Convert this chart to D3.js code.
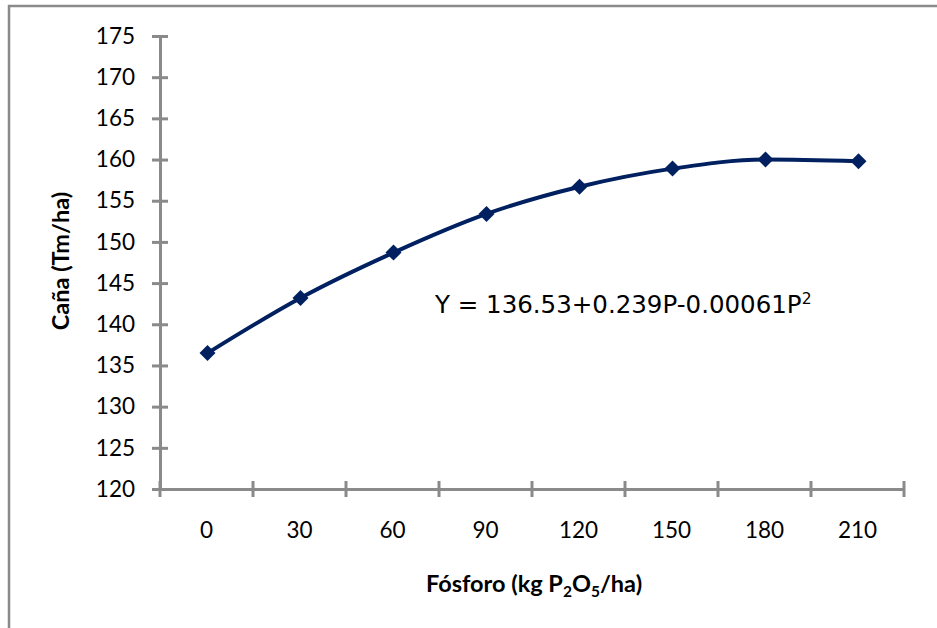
<!doctype html>
<html lang="es">
<head>
<meta charset="utf-8" />
<title>Caña vs Fósforo</title>
<script src="https://d3js.org/d3.v7.min.js"></script>
<style>
  body { margin: 0; background: #fff; }
  svg { display: block; }
  .tick text { font-family: Lato, "Noto Sans", sans-serif; font-size: 22.5px; fill: #000; }
</style>
</head>
<body>
<div id="chart"></div>
<script>
// data
const doses = ["0", "30", "60", "90", "120", "150", "180", "210"];
const yieldVals = [136.5, 143.2, 148.7, 153.4, 156.7, 158.9, 160.0, 159.8];
const yTicks = [120, 125, 130, 135, 140, 145, 150, 155, 160, 165, 170, 175];

const W = 937, H = 628;
const svg = d3.select("#chart").append("svg")
  .attr("width", W).attr("height", H);

// outer frame (runs off the right and bottom of the picture)
svg.append("rect")
  .attr("x", 9).attr("y", 6)
  .attr("width", 1000).attr("height", 1000)
  .attr("fill", "none").attr("stroke", "#8a8a8a").attr("stroke-width", 2.5);

const x = d3.scaleBand().domain(doses).range([160, 904]);
const y = d3.scaleLinear().domain([120, 175]).range([489, 36]);

const axisColor = "#8a8a8a";

// y axis
const gy = svg.append("g").attr("transform", "translate(160,0)")
  .call(d3.axisLeft(y).tickValues(yTicks).tickSize(0).tickPadding(25));
gy.select(".domain").attr("stroke", axisColor).attr("stroke-width", 3);
gy.selectAll(".tick").append("line")
  .attr("x1", -8).attr("x2", 8)
  .attr("stroke", axisColor).attr("stroke-width", 3);

// x axis (ticks between categories, crossing the line)
const gx = svg.append("g").attr("transform", "translate(0,489)")
  .call(d3.axisBottom(x).tickSize(0).tickPadding(33));
gx.select(".domain").attr("stroke", axisColor).attr("stroke-width", 3);
const bounds = doses.map(d => x(d)).concat([x(doses[doses.length - 1]) + x.bandwidth()]);
gx.selectAll(".sep").data(bounds).enter().append("line")
  .attr("class", "sep")
  .attr("x1", d => d).attr("x2", d => d)
  .attr("y1", -8).attr("y2", 8)
  .attr("stroke", axisColor).attr("stroke-width", 3);

// series
const pts = doses.map((d, i) => [x(d) + x.bandwidth() / 2 + 1, y(yieldVals[i])]);
svg.append("path")
  .attr("d", d3.line().curve(d3.curveMonotoneX)(pts))
  .attr("fill", "none").attr("stroke", "#002060").attr("stroke-width", 4);

svg.selectAll(".mk").data(pts).enter().append("path")
  .attr("class", "mk")
  .attr("transform", d => `translate(${d[0]},${d[1]})`)
  .attr("d", "M0,-8L8,0L0,8L-8,0Z")
  .attr("fill", "#002060");

// equation
const eq = svg.append("text")
  .attr("x", 435).attr("y", 313)
  .attr("font-family", "'DejaVu Sans', Verdana, sans-serif")
  .attr("font-size", 24.5).attr("fill", "#000")
  .attr("xml:space", "preserve");
eq.append("tspan").text("Y = 136.53+0.239P-0.00061P");
eq.append("tspan").attr("font-size", 15.5).attr("dy", -9).text("2");

// axis titles
svg.append("text")
  .attr("transform", "translate(69,261) rotate(-90)")
  .attr("text-anchor", "middle")
  .attr("font-family", "Lato, 'Noto Sans', sans-serif")
  .attr("font-weight", "bold").attr("font-size", 23.5)
  .text("Caña (Tm/ha)");

const xt = svg.append("text")
  .attr("x", 534).attr("y", 592)
  .attr("text-anchor", "middle")
  .attr("font-family", "Lato, 'Noto Sans', sans-serif")
  .attr("font-weight", "bold").attr("font-size", 23.5);
xt.append("tspan").text("Fósforo (kg P");
xt.append("tspan").attr("font-size", 15.5).attr("dy", 5).text("2");
xt.append("tspan").attr("dy", -5).text("O");
xt.append("tspan").attr("font-size", 15.5).attr("dy", 5).text("5");
xt.append("tspan").attr("dy", -5).text("/ha)");
</script>
</body>
</html>
